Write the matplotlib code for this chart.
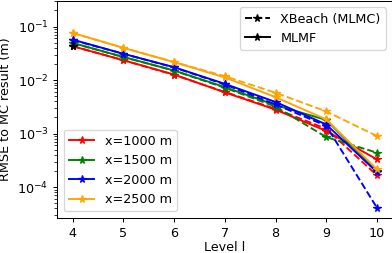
import matplotlib
matplotlib.use("Agg")
import matplotlib.pyplot as plt
import numpy as np

levels = [4, 5, 6, 7, 8, 9, 10]
positions = ["x=1000 m", "x=1500 m", "x=2000 m", "x=2500 m"]
colors = ["red", "green", "blue", "orange"]

# RMSE to MC result, XBeach (MLMC) -> dashed
rmse_mlmc = [
    [0.043, 0.0235, 0.0125, 0.0060, 0.0029, 0.00123, 0.000166],
    [0.049, 0.027, 0.0150, 0.0072, 0.0032, 0.00086, 0.00044],
    [0.056, 0.031, 0.0172, 0.0083, 0.0035, 0.00140, 0.000041],
    [0.076, 0.040, 0.0218, 0.0118, 0.0058, 0.0026, 0.00090],
]
# RMSE to MC result, MLMF -> solid
rmse_mlmf = [
    [0.043, 0.0235, 0.0127, 0.0059, 0.0028, 0.00112, 0.00033],
    [0.0496, 0.027, 0.0151, 0.0074, 0.0034, 0.00180, 0.00020],
    [0.057, 0.031, 0.0174, 0.0085, 0.0039, 0.00148, 0.00019],
    [0.076, 0.040, 0.0216, 0.0112, 0.0048, 0.00184, 0.000215],
]

# reference looks like a slightly shrunk render, so use a lower dpi
dpi = 92
fig = plt.figure(figsize=(393 / dpi, 253 / dpi), dpi=dpi)
ax = fig.add_axes([0.146, 0.140, 0.852, 0.856])

handles = []
for i in range(len(positions)):
    ax.plot(levels, rmse_mlmc[i], '*--', color=colors[i])
    h, = ax.plot(levels, rmse_mlmf[i], '*-', color=colors[i], label=positions[i])
    handles.append(h)

# black proxies for the line-style legend
h1, = ax.plot(levels[0], rmse_mlmc[0][0], 'k*--', label='XBeach (MLMC)')
h2, = ax.plot(levels[0], rmse_mlmf[0][0], 'k*-', label='MLMF')

ax.set_yscale('log')
ax.set_ylim(2.7e-5, 0.3)
ax.set_xlabel('Level l', labelpad=1.5)
ax.set_ylabel('RMSE to MC result (m)')

leg1 = ax.legend(handles=[h1, h2], loc='upper right')
ax.add_artist(leg1)
ax.legend(handles=handles, loc='lower left')

plt.savefig('out.png', dpi=dpi)
